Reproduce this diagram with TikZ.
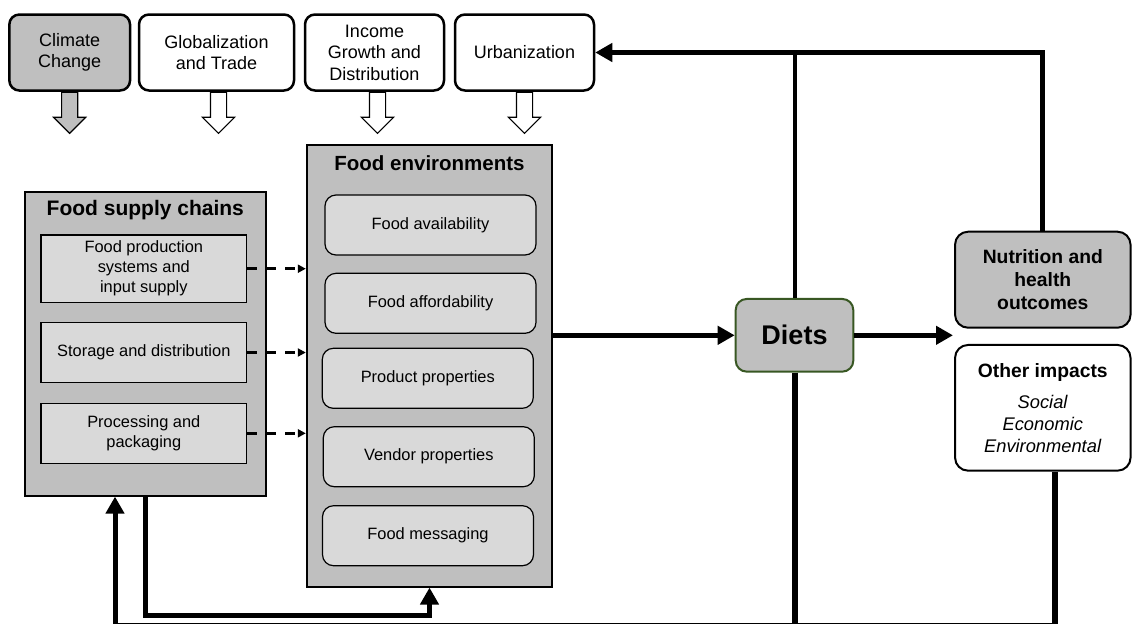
\documentclass[tikz,border=0pt]{standalone}
\usepackage{fontspec}
\setmainfont{Liberation Sans}
\usetikzlibrary{arrows.meta,shapes.arrows}

\definecolor{boxgray}{RGB}{191,191,191}
\definecolor{subgray}{RGB}{217,217,217}
\definecolor{dietgreen}{RGB}{56,87,35}

\tikzset{
  driver/.style={draw, line width=2.5pt, rounded corners=10pt, minimum height=76pt,
    inner sep=0pt, align=center, font=\fontsize{18}{21.5}\selectfont},
  pusharrow/.style={draw, line width=1.2pt, single arrow, shape border rotate=270,
    minimum height=41pt, minimum width=31pt, inner sep=7.5pt,
    single arrow head extend=8pt, anchor=tail},
  outerbox/.style={draw, line width=1.8pt, fill=boxgray, inner sep=0pt},
  chainbox/.style={draw, line width=1.2pt, fill=subgray, minimum width=205.7pt,
    inner sep=0pt, align=center, font=\fontsize{16.4}{20}\selectfont},
  envbox/.style={draw, line width=1.2pt, fill=subgray, rounded corners=11pt,
    minimum width=211pt, minimum height=60pt, inner sep=0pt,
    font=\fontsize{16.4}{20}\selectfont},
  outcome/.style={draw, line width=2pt, rounded corners=13pt, minimum width=175.5pt,
    inner sep=0pt, align=center},
  flow/.style={line width=5pt, -{Triangle[length=17pt,width=18pt]}},
  feed/.style={line width=2.5pt, dash pattern=on 10pt off 9pt,
    -{Triangle[length=8pt,width=8pt]}}
}

\begin{document}
\begin{tikzpicture}[x=1pt,y=-1pt]
  \useasboundingbox (0,0) rectangle (1132,625);

  % drivers
  \node[driver, fill=boxgray, minimum width=120.7pt] (climate) at (69.7,52.5) {Climate\\Change};
  \node[driver, fill=white, minimum width=155pt] (trade) at (216.5,52.5) {Globalization\\and Trade};
  \node[driver, fill=white, minimum width=139pt] (income) at (374.5,52.5) {Income\\Growth and\\Distribution};
  \node[driver, fill=white, minimum width=139pt] (urban) at (524.5,52.5) {Urbanization};
  \node[pusharrow, fill=boxgray] (climatepush) at (climate.south) {};
  \node[pusharrow, fill=white] (tradepush) at ([xshift=2pt]trade.south) {};
  \node[pusharrow, fill=white] (incomepush) at ([xshift=3pt]income.south) {};
  \node[pusharrow, fill=white] (urbanpush) at (urban.south) {};

  % food supply chains
  \node[outerbox, minimum width=240.7pt, minimum height=304pt] (supply) at (145.3,343.7) {};
  \node[font=\fontsize{21}{25}\selectfont\bfseries] (supplytitle) at (145.3,210) {Food supply chains};
  \node[chainbox, minimum height=67.3pt] (production) at (143.8,268.7) {Food production\\systems and\\input supply};
  \node[chainbox, minimum height=59.6pt] (storage) at (143.8,352.5) {Storage and distribution};
  \node[chainbox, minimum height=60pt] (processing) at (143.8,433.3) {Processing and\\packaging};

  % food environments
  \node[outerbox, minimum width=245.6pt, minimum height=441.7pt] (env) at (429.5,365.8) {};
  \node[font=\fontsize{20.5}{24}\selectfont\bfseries] (envtitle) at (429.5,163.3) {Food environments};
  \node[envbox] (availability) at (430.5,225) {Food availability};
  \node[envbox] (affordability) at (430.5,303.3) {Food affordability};
  \node[envbox] (product) at (427.8,378.3) {Product properties};
  \node[envbox] (vendor) at (428.8,456.7) {Vendor properties};
  \node[envbox] (messaging) at (428,535.7) {Food messaging};

  % diets and outcomes
  \node[draw=dietgreen, line width=2pt, fill=boxgray, rounded corners=11pt,
    minimum width=117.6pt, minimum height=72.7pt, inner sep=0pt,
    font=\fontsize{27}{32}\selectfont\bfseries] (diets) at (794.5,335.3) {Diets};
  \node[outcome, fill=boxgray, minimum height=96pt,
    font=\fontsize{19.3}{23}\selectfont\bfseries] (nutrition) at (1042.8,279.7) {Nutrition and\\health\\outcomes};
  \node[outcome, fill=white, minimum height=125.7pt,
    font=\fontsize{18.3}{21.7}\selectfont] (other) at (1042.8,407.8)
    {{\fontsize{19.3}{23}\selectfont\bfseries Other impacts}\\[10pt]\textit{Social}\\\textit{Economic}\\\textit{Environmental}};

  \coordinate (gap) at (953,335.3);
  \coordinate (bottomleft) at (115,623.5);
  \coordinate (bottomright) at (1055,623.5);
  \coordinate (loopcorner) at (144,615);

  % connectors
  \foreach \src in {production,storage,processing}
    \draw[feed] (\src.east) -- (\src.east -| env.west);
  \draw[flow] (env.east |- diets.west) -- (diets.west);
  \draw[flow] (diets.east) -- (gap);
  \draw[flow] (nutrition.north) |- (urban.east);
  \draw[line width=4pt] (diets.north) -- (diets.north |- urban.east);
  \draw[line width=6pt] (diets.south) -- (diets.south |- bottomleft);
  \draw[line width=6pt] ([xshift=12.2pt]other.south) -- (bottomright);
  \draw[line width=1.3pt] (bottomleft) -- (bottomright);
  \draw[flow] (bottomleft) -- (bottomleft |- supply.south);
  \draw[flow] (supply.south) -- (supply.south |- loopcorner) -| (env.south);
\end{tikzpicture}
\end{document}
